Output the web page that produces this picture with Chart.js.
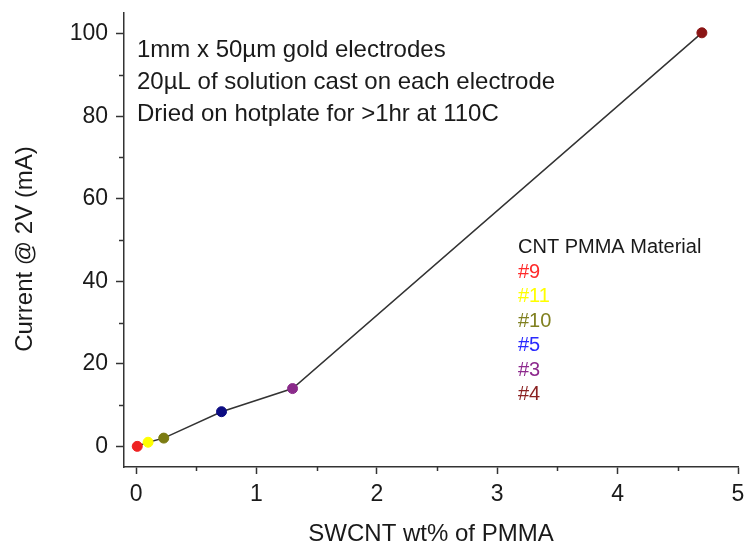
<!DOCTYPE html>
<html lang="en">
<head>
  <meta charset="UTF-8">
  <title>SWCNT wt% vs Current</title>
  <script src="https://cdn.jsdelivr.net/npm/chart.js"></script>
  <style>
    body { margin: 0; background: #fff; }
  </style>
</head>
<body>
  <canvas id="chart" width="745" height="544"></canvas>

  <script>
    // data
    const materials = ['#9', '#11', '#10', '#5', '#3', '#4'];
    const swcnt = [0.01, 0.1, 0.23, 0.71, 1.3, 4.7];
    const current = [0, 1.0, 2.0, 8.4, 14.0, 100.2];
    const pointColors = ['#ee2222', '#ffff00', '#7b7b12', '#0c0c82', '#8a2a8a', '#8b1515'];
    const labelColors = ['#ff2a2a', '#ffff00', '#808020', '#2a2aff', '#8e2a8e', '#8b2222'];

    const xTicks = [0, 1, 2, 3, 4, 5];
    const xMinor = [0.5, 1.5, 2.5, 3.5, 4.5];
    const yTicks = [0, 20, 40, 60, 80, 100];
    const yMinor = [10, 30, 50, 70, 90];

    const notes = [
      '1mm x 50\u00b5m gold electrodes',
      '20\u00b5L of solution cast on each electrode',
      'Dried on hotplate for >1hr at 110C'
    ];
    const legendTitle = 'CNT PMMA Material';

    const axisColor = '#333';
    const font = 'Arial, "Liberation Sans", sans-serif';

    const extras = {
      id: 'extras',
      afterDraw(chart) {
        const { ctx, chartArea: area, scales: { x, y } } = chart;
        ctx.save();

        // minor ticks
        ctx.strokeStyle = axisColor;
        ctx.lineWidth = 1.5;
        xMinor.forEach((v) => {
          const px = Math.round(x.getPixelForValue(v)) + 0.5;
          ctx.beginPath();
          ctx.moveTo(px, area.bottom);
          ctx.lineTo(px, area.bottom + 4);
          ctx.stroke();
        });
        yMinor.forEach((v) => {
          const py = Math.round(y.getPixelForValue(v)) + 0.5;
          ctx.beginPath();
          ctx.moveTo(area.left, py);
          ctx.lineTo(area.left - 5, py);
          ctx.stroke();
        });

        // axis titles
        ctx.fillStyle = '#1a1a1a';
        ctx.font = '24px ' + font;
        ctx.textAlign = 'center';
        ctx.textBaseline = 'alphabetic';
        ctx.fillText('SWCNT wt% of PMMA', 431, 541);
        ctx.save();
        ctx.translate(32, 249);
        ctx.rotate(-Math.PI / 2);
        ctx.fillText('Current @ 2V (mA)', 0, 0);
        ctx.restore();

        // notes in the top left
        ctx.textAlign = 'left';
        ctx.font = '24px ' + font;
        notes.forEach((t, i) => ctx.fillText(t, 137, 57 + i * 32));

        // coloured material list
        ctx.font = '20px ' + font;
        ctx.fillText(legendTitle, 518, 253);
        materials.forEach((m, i) => {
          ctx.fillStyle = labelColors[i];
          ctx.fillText(m, 518, 278 + i * 24.4);
        });

        ctx.restore();
      }
    };

    new Chart(document.getElementById('chart'), {
      type: 'line',
      data: {
        datasets: [{
          data: swcnt.map((v, i) => ({ x: v, y: current[i] })),
          borderColor: '#333',
          borderWidth: 1.5,
          tension: 0,
          pointRadius: 5,
          pointHoverRadius: 5,
          pointBackgroundColor: pointColors,
          pointBorderColor: pointColors,
          pointBorderWidth: 1,
        }]
      },
      options: {
        responsive: false,
        animation: false,
        events: [],
        layout: { padding: { left: 0, right: 7, top: 13, bottom: 0 } },
        plugins: {
          legend: { display: false },
          tooltip: { enabled: false },
        },
        scales: {
          x: {
            type: 'linear',
            min: -0.1,
            max: 5,
            afterBuildTicks: (s) => { s.ticks = xTicks.map((v) => ({ value: v })); },
            afterFit: (s) => { s.height = 77; s.paddingLeft = 0; s.paddingRight = 0; },
            grid: { drawOnChartArea: false, tickLength: 7, tickColor: axisColor, tickWidth: 1.5 },
            border: { color: axisColor, width: 1.5 },
            ticks: { color: '#1a1a1a', padding: 7, font: { size: 23, family: font } },
          },
          y: {
            type: 'linear',
            min: -5,
            max: 105,
            afterBuildTicks: (s) => { s.ticks = yTicks.map((v) => ({ value: v })); },
            afterFit: (s) => { s.width = 124; s.paddingTop = 0; s.paddingBottom = 0; },
            grid: { drawOnChartArea: false, tickLength: 8, tickColor: axisColor, tickWidth: 1.5 },
            border: { color: axisColor, width: 1.5 },
            ticks: { color: '#1a1a1a', padding: 8, font: { size: 23, family: font } },
          },
        },
      },
      plugins: [extras],
    });
  </script>
</body>
</html>
